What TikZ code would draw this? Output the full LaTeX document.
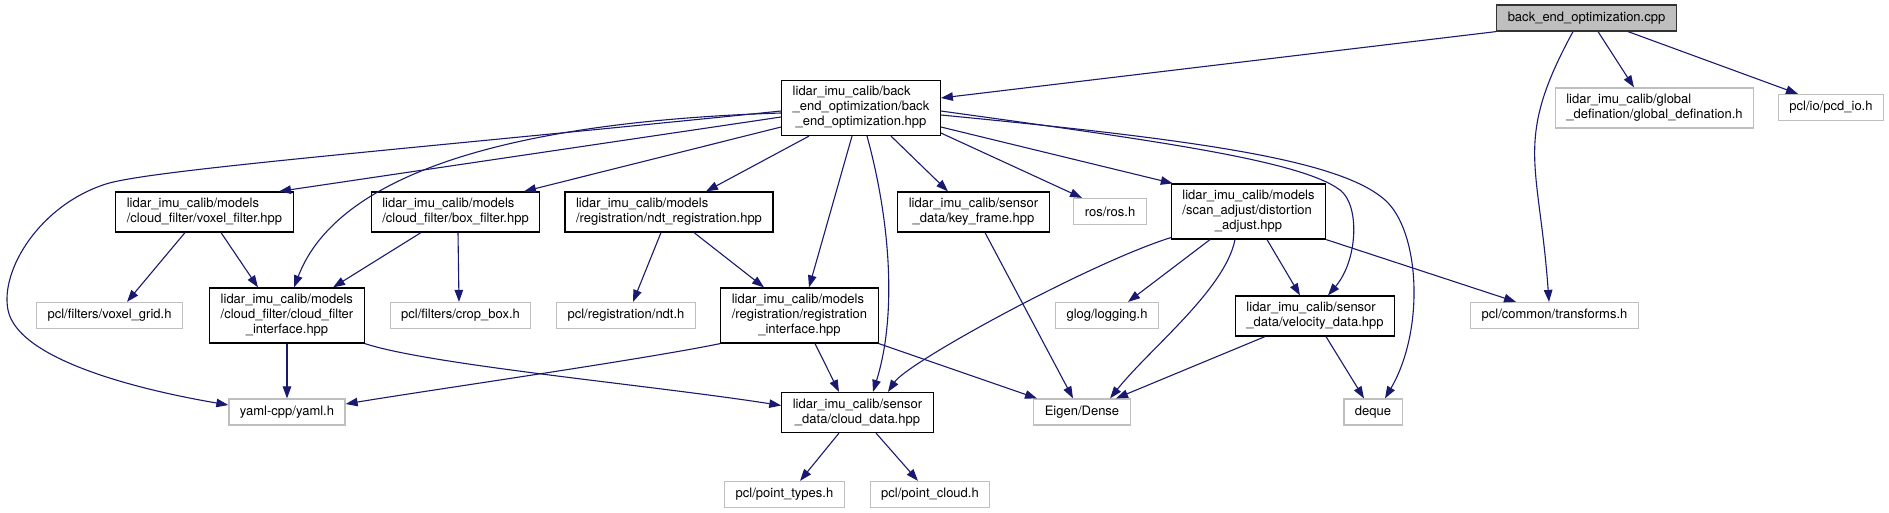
\documentclass[tikz,border=0pt]{standalone}
\usepackage{fontspec}
\setmainfont{TeX Gyre Heros}
\usetikzlibrary{arrows.meta,calc}
\definecolor{edgeblue}{HTML}{191970}
\definecolor{extgray}{HTML}{BFBFBF}
% first lines left, last line centred
\newcommand{\flab}[2]{\begin{tabular}{@{}l@{}}#1\\\multicolumn{1}{@{}c@{}}{#2}\end{tabular}}

\begin{document}
\begin{tikzpicture}[x=1pt,y=-1pt,
  file/.style={rectangle,draw=black,line width=1.2pt,fill=white,inner xsep=11pt,inner ysep=5pt,minimum height=26pt,font=\fontsize{13}{15}\selectfont},
  extfile/.style={file,draw=extgray},
  srcfile/.style={file,fill=extgray,draw=black!80},
  dep/.style={-{Triangle[length=12pt,width=8.5pt]},edgeblue,line width=1.1pt},
]
\useasboundingbox (0,0) rectangle (1889,513);

% === TOP ===
\node[srcfile] (cpp) at (1586.5,18) {back\_end\_optimization.cpp};
\node[file] (hpp) at (861,108) {\flab{lidar\_imu\_calib/back\\\_end\_optimization/back}{\_end\_optimization.hpp}};
\node[extfile] (globdef) at (1654.5,108) {\flab{lidar\_imu\_calib/global}{\_defination/global\_defination.h}};
\node[extfile] (pcdio) at (1831,107.5) {pcl/io/pcd\_io.h};

% === SECOND ROW ===
\node[file] (voxelf) at (204.5,212) {\flab{lidar\_imu\_calib/models}{/cloud\_filter/voxel\_filter.hpp}};
\node[file] (boxf) at (455.5,212) {\flab{lidar\_imu\_calib/models}{/cloud\_filter/box\_filter.hpp}};
\node[file] (ndtreg) at (669,212) {\flab{lidar\_imu\_calib/models}{/registration/ndt\_registration.hpp}};
\node[file] (keyframe) at (973.5,212) {\flab{lidar\_imu\_calib/sensor}{\_data/key\_frame.hpp}};
\node[extfile] (ros) at (1110,211.5) {ros/ros.h};
\node[file] (distort) at (1248.5,211.5) {\flab{lidar\_imu\_calib/models\\/scan\_adjust/distortion}{\_adjust.hpp}};

% === THIRD ROW ===
\node[extfile] (voxgrid) at (109.5,315.5) {pcl/filters/voxel\_grid.h};
\node[file] (cfiface) at (287,315.5) {\flab{lidar\_imu\_calib/models\\/cloud\_filter/cloud\_filter}{\_interface.hpp}};
\node[extfile] (cropbox) at (460.5,315.5) {pcl/filters/crop\_box.h};
\node[extfile] (ndth) at (626,315.5) {pcl/registration/ndt.h};
\node[file] (regiface) at (799.5,315.5) {\flab{lidar\_imu\_calib/models\\/registration/registration}{\_interface.hpp}};
\node[extfile] (glog) at (1107,315.5) {glog/logging.h};
\node[file] (velocity) at (1315,316) {\flab{lidar\_imu\_calib/sensor}{\_data/velocity\_data.hpp}};
\node[extfile] (transforms) at (1554.5,315.5) {pcl/common/transforms.h};

% === BOTTOM ===
\node[extfile] (yaml) at (287,412) {yaml-cpp/yaml.h};
\node[file] (clouddata) at (857.5,412.5) {\flab{lidar\_imu\_calib/sensor}{\_data/cloud\_data.hpp}};
\node[extfile] (eigen) at (1082,412) {Eigen/Dense};
\node[extfile] (deque) at (1373,412) {deque};
\node[extfile] (pttypes) at (784.5,494.5) {pcl/point\_types.h};
\node[extfile] (ptcloud) at (930,494.5) {pcl/point\_cloud.h};

% includes of the cpp
\draw[dep] (cpp.south west) -- ([yshift=10pt]hpp.east);
\draw[dep] ([xshift=-13.5pt]cpp.south) .. controls +(-60,110) and +(-10,-140) .. ([xshift=-5.5pt]transforms.north);
\draw[dep] ([xshift=11.5pt]cpp.south) -- ([xshift=-20.5pt]globdef.north);
\draw[dep] ([xshift=41.5pt]cpp.south) -- ([xshift=-33pt]pcdio.north);

% includes of the hpp
\draw[dep] ([yshift=-3pt]hpp.west) .. controls (400,150) and (150,170) .. (106,184) .. controls (40,205) and (0,270) .. (8,310) .. controls (18,360) and (140,390) .. ([yshift=7pt]yaml.west);
\draw[dep] ([yshift=-5pt]hpp.west) .. controls (400,125) and (320,220) .. ([xshift=7pt]cfiface.north);
\draw[dep] ([yshift=-9pt]hpp.west) -- ([xshift=74.5pt]voxelf.north);
\draw[dep] ([yshift=-19pt]hpp.west) -- ([xshift=68.5pt]boxf.north);
\draw[dep] ([xshift=-52pt]hpp.south) -- ([xshift=37pt]ndtreg.north);
\draw[dep] ([xshift=-9pt]hpp.south) -- ([xshift=9.5pt]regiface.north);
\draw[dep] ([xshift=6pt]hpp.south) .. controls +(22,80) and +(25,-80) .. ([xshift=15.5pt]clouddata.north);
\draw[dep] ([xshift=30pt]hpp.south) -- ([xshift=-25.5pt]keyframe.north);
\draw[dep] ([yshift=-25pt]hpp.east) -- ([xshift=-28pt]ros.north);
\draw[dep] ([yshift=-19pt]hpp.east) -- ([xshift=2pt]distort.north west);
\draw[dep] ([yshift=-3pt]hpp.east) .. controls (1150,140) and (1300,160) .. (1340,190) .. controls (1360,205) and (1358,260) .. ([xshift=13pt]velocity.north);
\draw[dep] ([yshift=-7pt]hpp.east) .. controls (1200,140) and (1340,160) .. (1385,200) .. controls (1420,231) and (1425,330) .. ([xshift=12pt]deque.north);

% filters and registration
\draw[dep] ([xshift=-19.5pt]voxelf.south) -- ([xshift=17.5pt]voxgrid.north);
\draw[dep] ([xshift=16.5pt]voxelf.south) -- ([xshift=-29pt]cfiface.north);
\draw[dep] ([xshift=-34.5pt]boxf.south) -- ([xshift=46pt]cfiface.north);
\draw[dep] ([xshift=2.5pt]boxf.south) -- ([xshift=-1.5pt]cropbox.north);
\draw[dep] ([xshift=-8pt]ndtreg.south) -- ([xshift=7pt]ndth.north);
\draw[dep] ([xshift=25pt]ndtreg.south) -- ([xshift=-35.5pt]regiface.north);
\draw[dep] (cfiface.south) -- (yaml.north);
\draw[dep] (cfiface.south east) .. controls (430,365) and (650,385) .. ([yshift=7pt]clouddata.west);
\draw[dep] (regiface.south west) .. controls (640,360) and (430,390) .. ([yshift=8pt]yaml.east);
\draw[dep] ([xshift=15.5pt]regiface.south) -- ([xshift=-18.5pt]clouddata.north);
\draw[dep] (regiface.south east) -- ([xshift=-45pt]eigen.north);

% sensor data
\draw[dep] ([yshift=2pt]distort.south west) .. controls +(-80,25) and +(20,-30) .. ([xshift=30.5pt]clouddata.north);
\draw[dep] ([xshift=-38.5pt]distort.south) -- ([xshift=21pt]glog.north);
\draw[dep] ([xshift=-13.5pt]distort.south) .. controls +(-10,50) and +(40,-50) .. ([xshift=28pt]eigen.north);
\draw[dep] ([xshift=18.5pt]distort.south) -- ([xshift=-15pt]velocity.north);
\draw[dep] (distort.south east) -- ([xshift=-38.5pt]transforms.north);
\draw[dep] ([xshift=11.5pt]keyframe.south) -- ([xshift=-9pt]eigen.north);
\draw[dep] ([xshift=-50pt]velocity.south) -- ([xshift=34pt]eigen.north);
\draw[dep] ([xshift=11pt]velocity.south) -- ([xshift=-9pt]deque.north);
\draw[dep] ([xshift=-18.5pt]clouddata.south) -- ([xshift=15.5pt]pttypes.north);
\draw[dep] ([xshift=18.5pt]clouddata.south) -- ([xshift=-12pt]ptcloud.north);

\end{tikzpicture}
\end{document}
